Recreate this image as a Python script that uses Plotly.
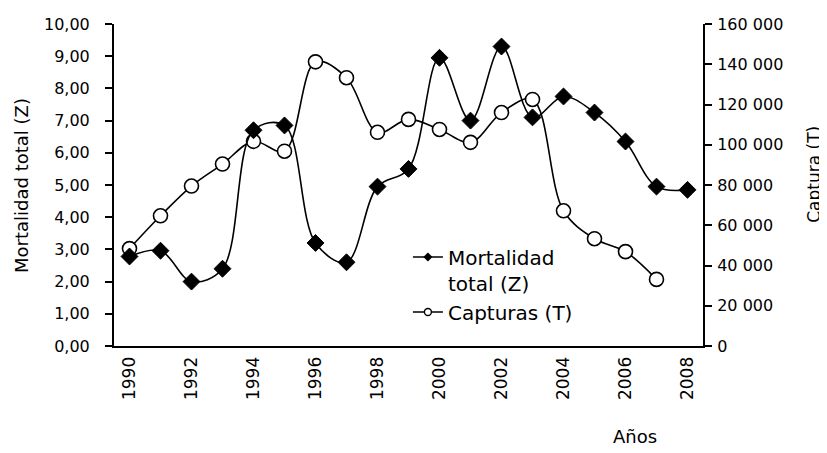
import plotly.graph_objects as go

# Años (categorías del eje X)
years = [1990, 1991, 1992, 1993, 1994, 1995, 1996, 1997, 1998, 1999,
         2000, 2001, 2002, 2003, 2004, 2005, 2006, 2007, 2008]

# Mortalidad total (Z) — eje izquierdo
mortalidad = [2.78, 2.96, 2.00, 2.40, 6.70, 6.85, 3.20, 2.60, 4.95, 5.50,
              8.95, 7.00, 9.30, 7.10, 7.75, 7.25, 6.35, 4.95, 4.85]

# Capturas (T) — eje derecho (sin dato en 2008)
capt_years = [1990, 1991, 1992, 1993, 1994, 1995, 1996, 1997, 1998, 1999,
              2000, 2001, 2002, 2003, 2004, 2005, 2006, 2007]
capturas = [48400, 64700, 79500, 90400, 101700, 96800, 141200, 133300, 106200,
            112600, 107600, 101200, 116000, 122500, 67200, 53300, 46900, 33100]

z_ticks = [0, 1, 2, 3, 4, 5, 6, 7, 8, 9, 10]
z_labels = ['0,00', '1,00', '2,00', '3,00', '4,00', '5,00', '6,00', '7,00',
            '8,00', '9,00', '10,00']
t_ticks = [0, 20000, 40000, 60000, 80000, 100000, 120000, 140000, 160000]
t_labels = ['0', '20 000', '40 000', '60 000', '80 000', '100 000',
            '120 000', '140 000', '160 000']
x_labels = [1990, 1992, 1994, 1996, 1998, 2000, 2002, 2004, 2006, 2008]

FONT = 'DejaVu Sans'
BLK = '#000000'

x_rng = [years[0] - 0.5, years[-1] + 0.5]
x_bounds = [y - 0.5 for y in years] + [years[-1] + 0.5]

fig = go.Figure()

# Capturas en el eje principal (derecha) -> queda por debajo
fig.add_trace(go.Scatter(
    x=capt_years, y=capturas, mode='lines+markers', yaxis='y',
    line=dict(color=BLK, width=1.6, shape='spline', smoothing=1),
    marker=dict(symbol='circle', size=14, color='#ffffff',
                line=dict(color=BLK, width=1.6)),
    showlegend=False, hoverinfo='skip'))

# Mortalidad en el eje superpuesto (izquierda) -> queda encima
fig.add_trace(go.Scatter(
    x=years, y=mortalidad, mode='lines+markers', yaxis='y2',
    line=dict(color=BLK, width=1.6, shape='spline', smoothing=1),
    marker=dict(symbol='diamond', size=13, color=BLK,
                line=dict(color=BLK, width=1)),
    showlegend=False, hoverinfo='skip'))

# entradas de leyenda con marcadores pequeños
fig.add_trace(go.Scatter(
    x=[None], y=[None], mode='lines+markers', yaxis='y2',
    name='Mortalidad<br>total (Z)',
    line=dict(color=BLK, width=1.6),
    marker=dict(symbol='diamond', size=7, color=BLK)))
fig.add_trace(go.Scatter(
    x=[None], y=[None], mode='lines+markers', yaxis='y2',
    name='Capturas (T)',
    line=dict(color=BLK, width=1.6),
    marker=dict(symbol='circle', size=7, color='#ffffff',
                line=dict(color=BLK, width=1.4))))

ax_common = dict(showgrid=False, zeroline=False, color=BLK, automargin=False)
tick16 = dict(family=FONT, size=16, color=BLK)
plain = dict(showticklabels=False, showgrid=False, zeroline=False,
             showline=False, automargin=False, tickmode='array',
             tickwidth=2, tickcolor=BLK)

# la página deja 8 px de margen al cuerpo: figura 819x445
fig.update_layout(
    width=819, height=445,
    margin=dict(l=106, r=124, t=16, b=107),
    paper_bgcolor='white', plot_bgcolor='white',
    font=dict(family=FONT, size=16, color=BLK),
    xaxis=dict(**ax_common, range=x_rng, tickmode='array',
               tickvals=x_labels, ticktext=[str(v) for v in x_labels],
               tickangle=-90, ticks='outside', ticklen=2,
               tickcolor='rgba(0,0,0,0)',
               tickfont=dict(family=FONT, size=17, color=BLK),
               showline=True, linecolor=BLK, linewidth=2),
    xaxis2=dict(**plain, overlaying='x', anchor='y', range=x_rng,
                tickvals=x_bounds, ticks='outside', ticklen=6),
    xaxis3=dict(**plain, overlaying='x', anchor='y', range=x_rng,
                tickvals=x_bounds, ticks='inside', ticklen=5),
    yaxis=dict(**ax_common, side='right', range=[0, 160000],
               tickmode='array', tickvals=t_ticks, ticktext=t_labels,
               ticks='outside', ticklen=7, tickwidth=2, tickcolor=BLK,
               ticklabelstandoff=2, tickfont=tick16,
               showline=True, linecolor=BLK, linewidth=2),
    yaxis2=dict(**ax_common, side='left', overlaying='y', anchor='x',
                range=[0, 10], tickmode='array', tickvals=z_ticks,
                ticktext=z_labels, ticks='outside', ticklen=7, tickwidth=2,
                tickcolor=BLK, ticklabelstandoff=12, tickfont=tick16,
                showline=True, linecolor=BLK, linewidth=2),
    yaxis3=dict(**plain, overlaying='y', side='left', anchor='x',
                range=[0, 10], tickvals=z_ticks, ticks='inside', ticklen=6),
    yaxis4=dict(**plain, overlaying='y', side='right', anchor='x',
                range=[0, 160000], tickvals=t_ticks, ticks='inside',
                ticklen=6),
    legend=dict(x=0.499, y=0.337, xanchor='left', yanchor='top',
                valign='top', bgcolor='rgba(0,0,0,0)',
                font=dict(family=FONT, size=20, color=BLK),
                tracegroupgap=0),
    annotations=[
        dict(text='Mortalidad total (Z)', xref='paper', yref='paper',
             x=-0.158, y=0.5, xanchor='center', yanchor='middle',
             textangle=-90, showarrow=False,
             font=dict(family=FONT, size=18, color=BLK)),
        dict(text='Captura (T)', xref='paper', yref='paper',
             x=1.188, y=0.534, xanchor='center', yanchor='middle',
             textangle=-90, showarrow=False,
             font=dict(family=FONT, size=17, color=BLK)),
        dict(text='Años', xref='paper', yref='paper',
             x=0.885, y=-0.28, xanchor='center', yanchor='middle',
             showarrow=False,
             font=dict(family=FONT, size=18, color=BLK)),
    ],
)

fig.write_html('out.html')
